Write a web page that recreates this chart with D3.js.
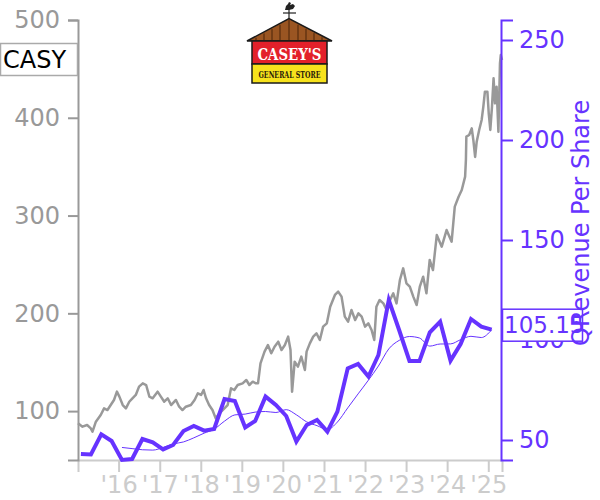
<!DOCTYPE html>
<html><head><meta charset="utf-8">
<script src="https://cdn.jsdelivr.net/npm/d3@7"></script>
<style>body{margin:0;background:#fff}svg{display:block}text{font-family:"DejaVu Sans",sans-serif}</style>
</head><body><svg id="c" width="600" height="500"></svg>
<script>
const ticker = "CASY";
const rightTitle = "QRevenue Per Share";
const logoTop = "CASEY'S";
const logoBottom = "GENERAL STORE";

const priceDates = ["2015-01-05","2015-02-14","2015-03-27","2015-04-29","2015-05-14","2015-06-13","2015-07-26","2015-08-25","2015-09-24","2015-10-23","2015-11-21","2015-12-17",
"2016-01-08","2016-02-07","2016-03-06","2016-04-05","2016-05-03","2016-06-02","2016-07-01","2016-08-03","2016-09-02","2016-10-01","2016-10-30","2016-12-13",
"2017-01-11","2017-02-10","2017-03-13","2017-04-12","2017-05-25","2017-06-23","2017-07-22","2017-08-21","2017-10-05","2017-11-07","2017-12-06",
"2018-01-04","2018-01-26","2018-02-17","2018-03-16","2018-04-15","2018-05-14","2018-06-16","2018-07-30","2018-08-28","2018-09-27","2018-10-26","2018-11-25",
"2019-01-08","2019-02-10","2019-03-09","2019-04-08","2019-05-07","2019-05-25","2019-06-16","2019-07-22","2019-08-21","2019-09-20","2019-10-19","2019-11-21","2019-12-20",
"2020-01-19","2020-02-17","2020-03-09","2020-03-23","2020-04-15","2020-05-14","2020-06-13","2020-07-15","2020-07-30","2020-08-28","2020-09-27","2020-10-26","2020-11-25","2020-12-24",
"2021-01-26","2021-02-25","2021-04-08","2021-05-07","2021-06-06","2021-07-05","2021-08-03","2021-09-02","2021-10-05","2021-11-03","2021-12-02",
"2022-01-01","2022-01-30","2022-02-28","2022-03-24","2022-04-12","2022-05-10","2022-06-13","2022-07-12","2022-08-11","2022-09-09","2022-10-08","2022-11-07","2022-12-06",
"2023-01-04","2023-02-03","2023-03-06","2023-04-05","2023-05-03","2023-06-02","2023-07-01","2023-07-30","2023-08-28","2023-10-01","2023-11-14","2023-12-27",
"2024-02-10","2024-03-09","2024-04-12","2024-05-10","2024-06-09","2024-06-16","2024-06-20","2024-07-15","2024-08-07","2024-08-21","2024-09-06","2024-09-20","2024-10-12","2024-11-03","2024-11-18","2024-12-02","2024-12-24",
"2025-01-05","2025-01-19","2025-02-03","2025-02-17","2025-03-02","2025-03-16","2025-04-01","2025-04-15","2025-04-22","2025-05-03"];
const priceValues = [87.5,84.1,85.8,82.4,79.0,89.2,96.0,102.8,101.1,106.2,111.4,119.9,
114.8,106.2,102.8,109.6,113.1,116.5,125.0,128.4,126.7,114.8,113.1,119.9,
114.8,109.6,113.1,106.2,111.4,104.5,101.1,104.5,106.2,111.4,118.2,
116.5,121.6,113.1,106.2,101.1,92.6,97.7,102.8,106.2,123.3,121.6,126.7,
128.4,131.8,126.7,130.1,128.4,128.4,148.9,160.8,167.6,159.1,165.9,171.0,162.5,
167.6,176.2,162.5,119.9,150.6,145.5,155.7,142.1,160.8,169.3,176.2,179.6,172.7,186.4,
189.8,206.8,218.8,222.2,217.1,196.6,191.5,203.4,193.2,200.0,196.6,
186.4,189.8,183.0,172.7,206.8,213.6,210.2,203.4,213.6,220.5,210.2,234.1,246.0,
230.7,227.3,217.1,208.5,227.3,237.5,220.5,254.6,244.3,280.1,268.2,285.2,
273.3,309.1,319.3,326.1,339.8,357.0,380.7,382.4,389.2,377.3,360.0,375.6,387.5,397.8,411.4,426.7,426.7,
404.6,387.5,411.4,440.4,414.8,431.8,385.8,455.7,464.2,459.1];

const revenueDates = ["2015-01-31","2015-04-30","2015-07-31","2015-10-31","2016-01-31","2016-04-30","2016-07-31","2016-10-31",
"2017-01-31","2017-04-30","2017-07-31","2017-10-31","2018-01-31","2018-04-30","2018-07-31","2018-10-31",
"2019-01-31","2019-04-30","2019-07-31","2019-10-31","2020-01-31","2020-04-30","2020-07-31","2020-10-31",
"2021-01-31","2021-04-30","2021-07-31","2021-10-31","2022-01-31","2022-04-30","2022-07-31","2022-10-31",
"2023-01-31","2023-04-30","2023-07-31","2023-10-31","2024-01-31","2024-04-30","2024-07-31","2024-10-31","2025-01-31"];
const revenueValues = [43,42.8,52.8,49.5,40,40.5,50.5,48.8,
45.3,47.5,54.5,57,54.7,55.5,70.5,69.5,
56.3,59.5,71.7,67.5,62,49.2,57.5,60,
54.2,64.2,85.8,88,81.7,92.5,120,105,
89.5,89.5,103.8,109.2,89.7,98,110.5,106.7,105.15];

const leftTicks = [100,200,300,400,500];
const rightTicks = [50,100,150,200,250];
const xDomain = ["2015-01-05","2025-05-03"];
const leftDomain = [50,500];
const rightDomain = [40,260];

const PURPLE = "#6633ff", GRAY = "#999999", LIGHT = "#cccccc";
const parse = d3.timeParse("%Y-%m-%d");
const svg = d3.select("#c");

const x = d3.scaleTime().domain(xDomain.map(parse)).range([78, 502]);
const yL = d3.scaleLinear().domain(leftDomain).range([460, 20]);
const yR = d3.scaleLinear().domain(rightDomain).range([460, 20]);

const price = priceDates.map((d,i)=>({date:parse(d), v:priceValues[i]}));
const rev = revenueDates.map((d,i)=>({date:parse(d), v:revenueValues[i]}));
const ma = rev.map((d,i)=> i>=4 ? {date:d.date, v:d3.mean(rev.slice(i-3,i+1), e=>e.v)} : null).filter(Boolean);

// x axis
const gx = svg.append("g").attr("transform","translate(0,460)")
  .call(d3.axisBottom(x).ticks(d3.timeYear.every(1)).tickFormat(d3.timeFormat("'%y")).tickSize(12).tickPadding(4));
gx.selectAll("path,line").attr("stroke",LIGHT).attr("stroke-width",2);
gx.selectAll("text").attr("fill",LIGHT).style("font-size","24px");

// lines
svg.append("path").datum(price).attr("fill","none").attr("stroke",GRAY).attr("stroke-width",2.5).attr("stroke-linejoin","round")
  .attr("d", d3.line().x(d=>x(d.date)).y(d=>yL(d.v)));
svg.append("path").datum(ma).attr("fill","none").attr("stroke",PURPLE).attr("stroke-width",1)
  .attr("d", d3.line().curve(d3.curveMonotoneX).x(d=>x(d.date)).y(d=>yR(d.v)));
svg.append("path").datum(rev).attr("fill","none").attr("stroke",PURPLE).attr("stroke-width",4).attr("stroke-linejoin","miter")
  .attr("d", d3.line().x(d=>x(d.date)).y(d=>yR(d.v)));

// left axis
const gl = svg.append("g").attr("transform","translate(78,0)")
  .call(d3.axisLeft(yL).tickValues(leftTicks).tickSize(10).tickPadding(8));
gl.selectAll("path,line").attr("stroke",GRAY).attr("stroke-width",2);
gl.selectAll("text").attr("fill",GRAY).style("font-size","24px");

// right axis
const gr = svg.append("g").attr("transform","translate(501,0)")
  .call(d3.axisRight(yR).tickValues(rightTicks).tickSize(12).tickPadding(6));
gr.selectAll("path,line").attr("stroke",PURPLE).attr("stroke-width",2);
gr.selectAll("text").attr("fill",PURPLE).style("font-size","24px");

// ticker box
svg.append("rect").attr("x",0.5).attr("y",43.5).attr("width",77).attr("height",32)
  .attr("fill","#fff").attr("stroke","#aaa").attr("stroke-width",1.5);
svg.append("text").attr("x",3).attr("y",68).attr("fill","#000").style("font-size","24px").text(ticker);

// last value box
const last = rev[rev.length-1];
const ly = yR(last.v);
svg.append("rect").attr("x",502.5).attr("y",ly-20.5).attr("width",80).attr("height",32)
  .attr("fill","#fff").attr("stroke",PURPLE).attr("stroke-width",1.5);
svg.append("text").attr("x",504).attr("y",ly+3.5).attr("fill",PURPLE).style("font-size","23px").text(d3.format(".2f")(last.v));

// right title
svg.append("text").attr("transform","translate(589,346) rotate(-90)").attr("fill",PURPLE)
  .style("font-size","24px").text(rightTitle);

// logo
const lg = svg.append("g");
lg.append("polygon").attr("points","247,41 289,18.5 332,41").attr("fill","#9a5522").attr("stroke","#1a1a1a").attr("stroke-width",1.5);
[256,264,272,280,289,298,306,314,322].forEach(px=>{
  const top = px<289 ? 41-(px-247)/42*22.5 : 18.5+(px-289)/43*22.5;
  lg.append("line").attr("x1",px).attr("x2",px).attr("y1",top+1.5).attr("y2",41).attr("stroke","#4a2408").attr("stroke-width",1);
});
lg.append("line").attr("x1",289).attr("x2",289).attr("y1",9).attr("y2",19).attr("stroke","#222").attr("stroke-width",1.2);
lg.append("line").attr("x1",283).attr("x2",296).attr("y1",13).attr("y2",13).attr("stroke","#222").attr("stroke-width",1.2);
lg.append("path").attr("d","M285,10 L286,6 L288,4 L289,2 L291,3 L290,5 L293,4 L295,6 L293,9 L289,10 Z").attr("fill","#222");
lg.append("rect").attr("x",252).attr("y",41).attr("width",75).attr("height",23).attr("fill","#e3202a").attr("stroke","#1a1a1a").attr("stroke-width",1.5);
lg.append("rect").attr("x",252).attr("y",64).attr("width",75).attr("height",19).attr("fill","#f7e21c").attr("stroke","#1a1a1a").attr("stroke-width",1.5);
lg.append("text").attr("x",289.5).attr("y",59.5).attr("text-anchor","middle").attr("fill","#fff")
  .attr("textLength",64).attr("lengthAdjust","spacingAndGlyphs")
  .style("font-family","'DejaVu Serif',serif").style("font-weight","bold").style("font-size","17px").text(logoTop);
lg.append("text").attr("x",289.5).attr("y",77.5).attr("text-anchor","middle").attr("fill","#2a1a0a")
  .attr("textLength",62).attr("lengthAdjust","spacingAndGlyphs")
  .style("font-family","'DejaVu Serif',serif").style("font-weight","bold").style("font-size","10px").text(logoBottom);
</script></body></html>
